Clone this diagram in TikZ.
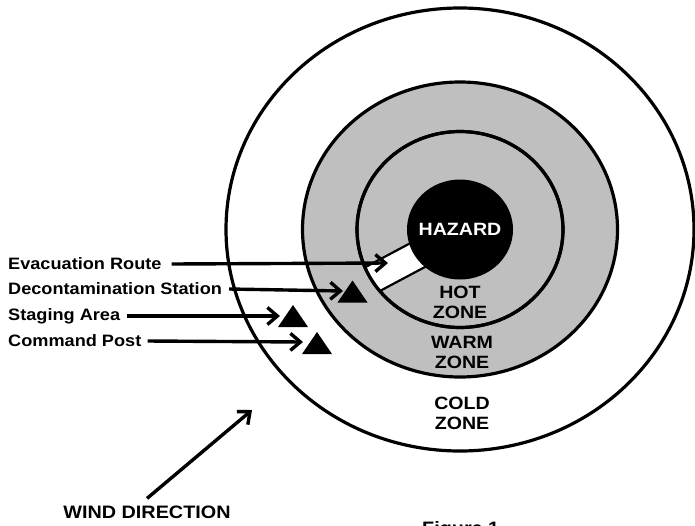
\documentclass[tikz,border=0pt]{standalone}
\usepackage{fontspec}
\setmainfont{Liberation Sans}
\newfontfamily\lab[FakeStretch=1.1]{Liberation Sans}
\usetikzlibrary{arrows.meta}
\tikzset{
  ring/.style={line width=3.2pt, draw=black},
  shade/.style={fill=gray!50},
  lbl/.style={font=\lab\bfseries\fontsize{16.5}{18}\selectfont, inner sep=0pt, anchor=west},
  zlbl/.style={font=\lab\bfseries\fontsize{17.8}{20}\selectfont, align=center, inner sep=0pt},
  arr/.style={line width=3.4pt, -{Straight Barb[length=10pt,width=17pt]}},
  tri/.pic={\fill[black] (-15,11) -- (0,-11) -- (15,11) -- cycle;}
}
\begin{document}
\begin{tikzpicture}[x=1pt,y=-1pt]
\useasboundingbox (0,0) rectangle (695,525);
% zones
\draw[ring, fill=white] (460,229.5) ellipse [x radius=234pt, y radius=221.5pt];
\draw[ring, shade] (460,229.5) ellipse [x radius=157.5pt, y radius=147.5pt];
\draw[ring, shade] (460,229.5) ellipse [x radius=103pt, y radius=98pt];
% evacuation strip
\begin{scope}
  \clip (460,229.5) ellipse [x radius=103pt, y radius=98pt];
  \draw[line width=2.2pt, fill=white] (466.6,244.8) -- (453.4,220.2) -- (329.9,286.0) -- (343.1,310.6) -- cycle;
\end{scope}
\draw[ring] (460,229.5) ellipse [x radius=103pt, y radius=98pt];
% hazard
\fill[black] (460,229.5) ellipse [x radius=53pt, y radius=50pt];
\node[zlbl, text=white] (hazard) at (460,229) {HAZARD};
\node[zlbl] (hot) at (460,302) {HOT\\ZONE};
\node[zlbl] (warm) at (462,352.5) {WARM\\ZONE};
\node[zlbl] (cold) at (462,413.5) {COLD\\ZONE};
% triangles
\pic (decon) at (352.5,291.5) {tri};
\pic (staging) at (293,316) {tri};
\pic (command) at (317,343) {tri};
% labels
\node[lbl] (evac) at (8,264) {Evacuation Route};
\node[lbl] (dec) at (8,289) {Decontamination Station};
\node[lbl] (stg) at (8,316) {Staging Area};
\node[lbl] (cmd) at (8,341) {Command Post};
\coordinate (evacend) at (388,263);
\coordinate (decend) at (343,291);
\coordinate (stgend) at (280,316);
\coordinate (cmdend) at (303,342);
\draw[arr] ([xshift=10pt]evac.east) -- (evacend);
\draw[arr] ([xshift=7pt]dec.east) -- (decend);
\draw[arr] ([xshift=7pt]stg.east) -- (stgend);
\draw[arr] ([xshift=6pt]cmd.east) -- (cmdend);
% wind
\node[font=\lab\bfseries\fontsize{18}{20}\selectfont, inner sep=0pt] (wind) at (147,512) {WIND DIRECTION};
\coordinate (windtip) at (252,410);
\draw[arr] ([yshift=7pt]wind.north) -- (windtip);
% figure caption (cut off at the bottom edge, as in the reference)
\node[font=\lab\bfseries\fontsize{18}{20}\selectfont, inner sep=0pt, anchor=north west] (fig) at (422,521) {Figure 1};
\end{tikzpicture}
\end{document}
